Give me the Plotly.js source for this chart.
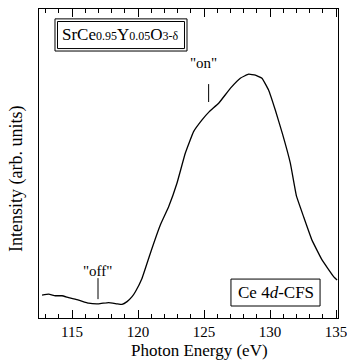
<!DOCTYPE html>
<html><head><meta charset="utf-8">
<script src="https://cdn.plot.ly/plotly-3.0.1.min.js"></script>
<style>body{margin:0;background:#fff}#chart{width:347px;height:363px}</style>
</head><body><div id="chart"></div>
<script>
const energy = [112.73,113.23,113.73,114.24,114.74,115.5,116.26,117.02,117.77,118.41,118.79,119.17,119.55,119.8,120.3,120.93,121.69,122.32,122.95,123.58,124.21,124.85,125.4,126.11,126.99,127.75,128.38,128.89,129.39,129.89,130.4,130.95,131.54,132.0,132.55,133.18,133.94,134.82,135.08];
const intensity = [0.074,0.077,0.072,0.072,0.066,0.058,0.048,0.046,0.050,0.046,0.044,0.053,0.069,0.085,0.128,0.209,0.301,0.360,0.436,0.533,0.603,0.641,0.668,0.695,0.743,0.776,0.789,0.786,0.776,0.738,0.673,0.595,0.501,0.395,0.327,0.252,0.188,0.134,0.123];
const tickVals = [115,120,125,130,135];
const tickText = ['115','120','125','130','135'];

const F = 'Liberation Serif';
const trace = {x: energy, y: intensity, mode:'lines', line:{color:'#000', width:1.3, shape:'spline', smoothing:0.3}, hoverinfo:'skip'};

const layout = {
  width:347, height:363,
  margin:{l:39, r:9, t:9, b:45},
  paper_bgcolor:'#fff', plot_bgcolor:'#fff',
  font:{family:F, color:'#000', size:15},
  showlegend:false,
  xaxis:{range:[112.5,135.15], tickvals:tickVals, ticktext:tickText, ticks:'inside', ticklen:8, tickwidth:1, tickcolor:'#000',
    minor:{dtick:1, tick0:0, ticks:'inside', ticklen:4, tickwidth:1, tickcolor:'#000'},
    showline:true, linecolor:'#000', linewidth:1.2, mirror:'allticks', showgrid:false, zeroline:false,
    ticklabeloverflow:'allow',
    tickfont:{family:F, size:15, color:'#000'}},
  yaxis:{range:[0,1], showticklabels:false, ticks:'', showline:true, linecolor:'#000', linewidth:1.2, mirror:true, showgrid:false, zeroline:false},
  shapes:[
    {type:'rect', xref:'paper', yref:'paper', x0:0.0535, x1:0.495, y0:0.864, y1:0.968, line:{color:'#000', width:1}},
    {type:'rect', xref:'paper', yref:'paper', x0:0.0619, x1:0.4866, y0:0.872, y1:0.9595, line:{color:'#000', width:1}},
    {type:'rect', xref:'paper', yref:'paper', x0:0.642, x1:0.94, y0:0.0388, y1:0.126, line:{color:'#000', width:1}},
    {type:'line', xref:'x', yref:'y', x0:125.35, x1:125.35, y0:0.699, y1:0.757, line:{color:'#000', width:1}},
    {type:'line', xref:'x', yref:'y', x0:116.97, x1:116.97, y0:0.061, y1:0.129, line:{color:'#000', width:1}}
  ],
  annotations:[
    {xref:'paper', yref:'paper', x:0.274, y:0.916, showarrow:false, xanchor:'center', yanchor:'middle',
     text:"SrCe<span style='font-size:12px'>0.95</span>Y<span style='font-size:12px'>0.05</span>O<span style='font-size:12px'>3-δ</span>", font:{family:F, size:17, color:'#000'}},
    {xref:'paper', yref:'paper', x:0.791, y:0.0825, showarrow:false, xanchor:'center', yanchor:'middle',
     text:"Ce 4<i>d</i>-CFS", font:{family:F, size:17, color:'#000'}},
    {xref:'x', yref:'y', x:124.95, y:0.825, showarrow:false, xanchor:'center', yanchor:'middle', text:'"on"', font:{family:F, size:15, color:'#000'}},
    {xref:'x', yref:'y', x:116.9, y:0.152, showarrow:false, xanchor:'center', yanchor:'middle', text:'"off"', font:{family:F, size:15, color:'#000'}},
    {xref:'paper', yref:'paper', x:0.537, y:-0.1036, showarrow:false, xanchor:'center', yanchor:'middle', text:'Photon Energy (eV)', font:{family:F, size:17, color:'#000'}},
    {xref:'paper', yref:'paper', x:-0.0736, y:0.45, showarrow:false, xanchor:'center', yanchor:'middle', textangle:-90, text:'Intensity (arb. units)', font:{family:F, size:18, color:'#000'}}
  ]
};
Plotly.newPlot('chart', [trace], layout, {staticPlot:true, displayModeBar:false});
</script></body></html>
